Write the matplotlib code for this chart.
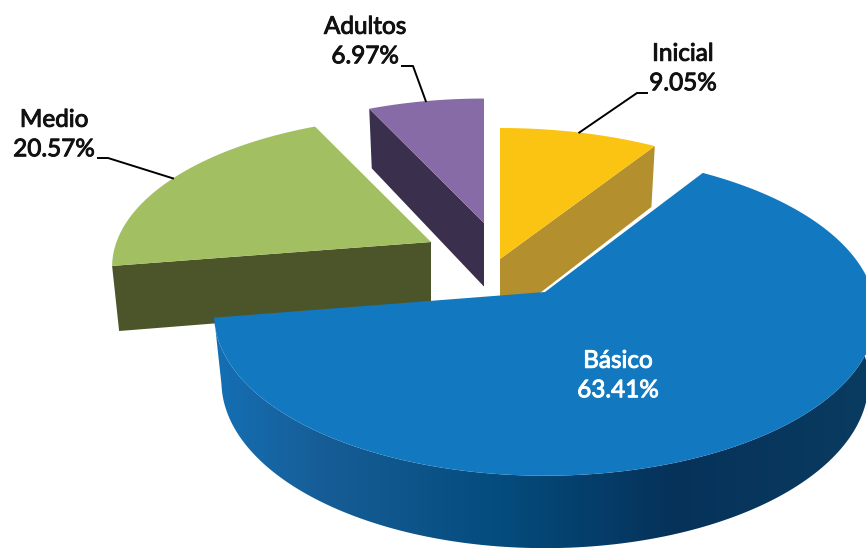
import numpy as np
import matplotlib
matplotlib.use("Agg")
import matplotlib.pyplot as plt
import matplotlib.patheffects as pe
from matplotlib.colors import LinearSegmentedColormap
from matplotlib.patches import Polygon

categories = ["Inicial", "Básico", "Medio", "Adultos"]
shares = [9.05, 63.41, 20.57, 6.97]

top_colors = ["#FBC412", "#1279C1", "#A2C062", "#866BA6"]
cut_colors = ["#B38F2E", None, "#4B5529", "#3A2F4C"]

# where each exploded slice has its tip, in pixels, and how much the view shrinks it
apex_x = [500, 545, 431, 484]
apex_y = [259, 292, 242, 223]
slice_scale = [1.0, 1.0, 0.96, 0.95]
slice_ry = [152.7, 158.0, 152.7, 152.7]
slice_persp = [0.1656, 0.14, 0.1656, 0.1656]
# which end of the arc the visible cut face hangs from
cut_end = [-1, None, 0, 0]

# leader elbows (label side first)
leader_end = {"Inicial": [(647, 93), (637, 93)],
              "Medio": [(98, 158), (108, 158)],
              "Adultos": [(402, 66), (413, 66)]}
label_pos = {"Inicial": (683, 69), "Básico": (618, 376),
             "Medio": (54, 135), "Adultos": (365, 42)}

# fake 3D view
RX = 327.6
BOTTOM_SCALE = 0.978


def project(theta, i):
    """theta is clockwise from north, gives offset from the slice tip."""
    x, y = np.sin(theta), np.cos(theta)
    w = 1 + slice_persp[i] * y
    s = slice_scale[i]
    return apex_x[i] + s * RX * x / w, apex_y[i] - s * slice_ry[i] * y / w


def drop(px, py, i):
    """Same point on the underside of the pie."""
    bx = apex_x[i] + (px - apex_x[i]) * BOTTOM_SCALE
    by = py + 66 + 0.035 * (py - 292)
    return bx, by


angles = np.cumsum([0] + shares) / sum(shares) * 2 * np.pi

fig = plt.figure(figsize=(8.66, 5.48), dpi=100)
ax = fig.add_axes([0, 0, 1, 1])

wall_cmap = LinearSegmentedColormap.from_list(
    "wall",
    [(0.0, "#1470B5"), (0.16, "#175E98"), (0.44, "#044C7D"),
     (0.70, "#06325A"), (1.0, "#0A3B60")])

# back slices first so the big one sits over their cut faces
for i in [3, 0, 2, 1]:
    t0, t1 = angles[i], angles[i + 1]
    th = np.linspace(t0, t1, 200)
    tip_x, tip_y = apex_x[i], apex_y[i]
    px, py = project(th, i)
    bx, by = drop(px, py, i)

    if cut_end[i] is None:
        wall = Polygon(np.r_[np.c_[px, py], np.c_[bx, by][::-1]], closed=True,
                       fc="none", ec="none", zorder=2)
        ax.add_patch(wall)
        grad = np.linspace(0, 1, 500).reshape(1, -1)
        im = ax.imshow(grad, cmap=wall_cmap, extent=(210, 870, 550, 300),
                       aspect="auto", zorder=2)
        im.set_clip_path(wall)
    else:
        k = cut_end[i]
        under_x, under_y = drop(tip_x, tip_y, i)
        face = [(tip_x, tip_y), (px[k], py[k]), (bx[k], by[k]), (under_x, under_y)]
        ax.add_patch(Polygon(face, closed=True, fc=cut_colors[i], ec="none", zorder=2))

    top = np.r_[[[tip_x, tip_y]], np.c_[px, py]]
    ax.add_patch(Polygon(top, closed=True, fc=top_colors[i], ec="none", zorder=3))

    name = categories[i]
    lx, ly = label_pos[name]
    ink = "white" if name == "Básico" else "#111111"
    ax.text(lx, ly, f"{name}\n{shares[i]:.2f}%", ha="center", va="center",
            fontsize=17.5, family="Lato", linespacing=1.5, zorder=6, color=ink,
            path_effects=[pe.withStroke(linewidth=0.7, foreground=ink)])

    if name in leader_end:
        mx, my = project((t0 + t1) / 2, i)
        pts = leader_end[name] + [(mx, my)]
        ax.plot(*zip(*pts), color="black", lw=1.4, zorder=5, solid_joinstyle="round")

ax.set_xlim(0, 866)
ax.set_ylim(548, 0)
ax.axis("off")

fig.savefig("out.png", dpi=100, facecolor="white")
